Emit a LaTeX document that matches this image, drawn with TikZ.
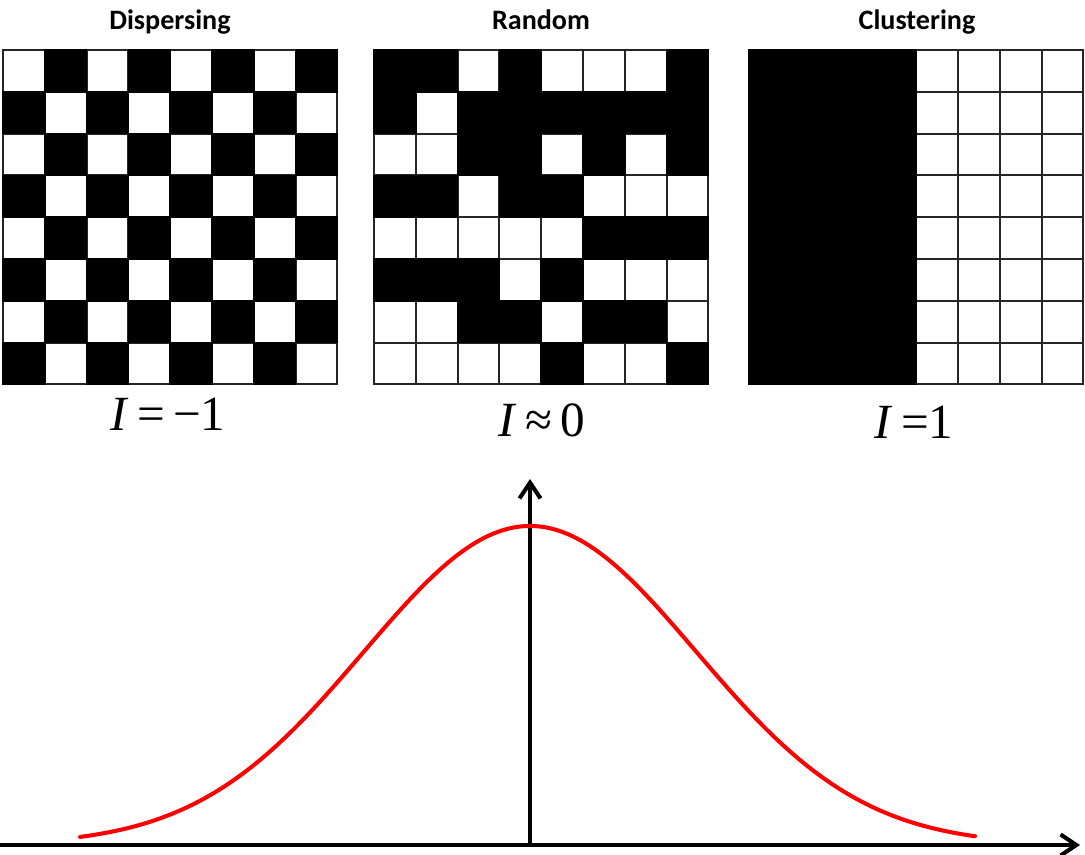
\documentclass[tikz,border=0pt]{standalone}
\usepackage{fontspec}
\setmainfont{Liberation Serif}
\newfontfamily\titlefont{Carlito}
\newfontfamily\valuefont{Liberation Serif}
\usetikzlibrary{arrows.meta}
\tikzset{cell/.style={draw=black!85, line width=1.1pt}}
\tikzset{title/.style={font=\titlefont\bfseries\fontsize{16}{19}\selectfont, anchor=base, inner sep=0pt}}
\tikzset{moran/.style={font=\valuefont\fontsize{28}{32}\selectfont, anchor=base, inner sep=0pt}}
\tikzset{axis/.style={line width=2.3pt, -{Straight Barb[length=9pt, width=12pt]}}}
\tikzset{bell/.style={red, line width=2.3pt, line cap=round}}
% one 8x8 board: left, top, rows (1 = black)
\newcommand{\board}[3]{%
  \foreach \row [count=\r] in {#3} {
    \foreach \v [count=\k] in \row {
      \ifnum\v=1 \def\cellfill{black}\else\def\cellfill{white}\fi
      \draw[cell, fill=\cellfill] ({#1+(\k-1)*41.8}, {#2+(\r-1)*41.8}) rectangle ++(41.8,41.8);
    }
  }
  % black cells again, so that a black patch reads as one block
  \foreach \row [count=\r] in {#3} {
    \foreach \v [count=\k] in \row {
      \ifnum\v=1
        \fill[black] ({#1+(\k-1)*41.8-0.8}, {#2+(\r-1)*41.8-0.8}) rectangle ++(43.4,43.4);
      \fi
    }
  }
}

\begin{document}
\begin{tikzpicture}[x=0.02cm, y=-0.02cm]
  \useasboundingbox (0,0) rectangle (1085,855);

  % ---- the three boards
  \board{3}{50}{{0,1,0,1,0,1,0,1},{1,0,1,0,1,0,1,0},{0,1,0,1,0,1,0,1},{1,0,1,0,1,0,1,0},
                {0,1,0,1,0,1,0,1},{1,0,1,0,1,0,1,0},{0,1,0,1,0,1,0,1},{1,0,1,0,1,0,1,0}}
  \board{374}{50}{{1,1,0,1,0,0,0,1},{1,0,1,1,1,1,1,1},{0,0,1,1,0,1,0,1},{1,1,0,1,1,0,0,0},
                  {0,0,0,0,0,1,1,1},{1,1,1,0,1,0,0,0},{0,0,1,1,0,1,1,0},{0,0,0,0,1,0,0,1}}
  \board{749}{50}{{1,1,1,1,0,0,0,0},{1,1,1,1,0,0,0,0},{1,1,1,1,0,0,0,0},{1,1,1,1,0,0,0,0},
                  {1,1,1,1,0,0,0,0},{1,1,1,1,0,0,0,0},{1,1,1,1,0,0,0,0},{1,1,1,1,0,0,0,0}}

  % ---- titles and values of I
  \node[title] (tdisp) at (170,30) {Dispersing};
  \node[title] (trand) at (541,30) {Random};
  \node[title] (tclus) at (917,30) {Clustering};
  \node[moran] (idisp) at (168,430) {\textit{I}\,=\,−1};
  \node[moran] (irand) at (542,436) {\textit{I}\,≈\,0};
  \node[moran] (iclus) at (914,438) {\textit{I}\,=1};

  % ================= axes and the bell curve ====================================
  \coordinate (xstart) at (0,845);
  \coordinate (xend) at (1080,845);
  \coordinate (origin) at (530,845);
  \coordinate (ytop) at (530,479);
  \draw[axis] (xstart) -- (xend);
  \draw[axis] (origin) -- (ytop);
  \draw[bell] plot[domain=-450:445, samples=120, smooth]
    ({\x+530}, {845-319*exp(-(\x/166)^2/2)});
\end{tikzpicture}
\end{document}
